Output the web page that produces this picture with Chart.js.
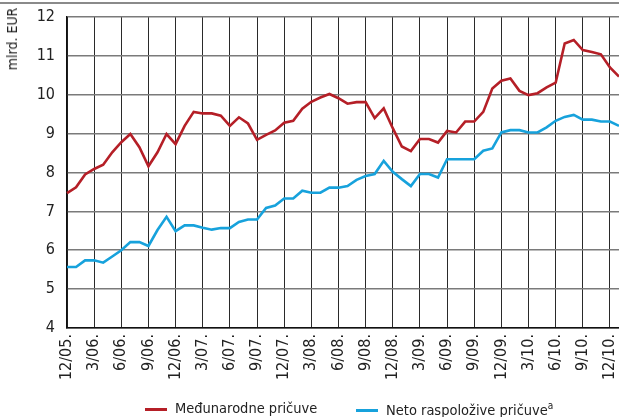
<!DOCTYPE html>
<html>
<head>
<meta charset="utf-8">
<script src="https://cdn.jsdelivr.net/npm/chart.js@4"></script>
<style>
  body { margin: 0; background: #fff; }
  #wrap { position: relative; width: 619px; height: 417px; font-family: 'Liberation Sans Narrow', 'DejaVu Sans Condensed', sans-serif; color: #222; }
  #topline { position: absolute; left: 0; top: 2px; width: 619px; height: 0; border-top: 2px solid #8a8a8a; }
  #ytitle { position: absolute; left: 12px; top: 39px; transform: translate(-50%, -50%) rotate(-90deg); font-size: 14px; white-space: nowrap; }
  #legend { position: absolute; left: 0; top: 400px; width: 619px; font-size: 14.5px; }
  .item { position: absolute; top: 0; white-space: nowrap; }
  .swatch { display: inline-block; width: 22px; height: 3px; vertical-align: middle; margin-right: 8px; }
  sup { font-size: 10px; }
</style>
</head>
<body>
<div id="wrap">
  <canvas id="chart" width="619" height="417"></canvas>
  <div id="topline"></div>
  <div id="ytitle">mlrd. EUR</div>
  <div id="legend">
    <span class="item" style="left:145px"><span class="swatch" style="background:#b51f27"></span>Međunarodne pričuve</span>
    <span class="item" style="left:356px"><span class="swatch" style="background:#17a2dc"></span>Neto raspoložive pričuve<sup>a</sup></span>
  </div>
</div>
<script>
const months = [
  "12/05.", "1/06.", "2/06.", "3/06.", "4/06.", "5/06.", "6/06.", "7/06.", "8/06.", "9/06.", "10/06.", "11/06.",
  "12/06.", "1/07.", "2/07.", "3/07.", "4/07.", "5/07.", "6/07.", "7/07.", "8/07.", "9/07.", "10/07.", "11/07.",
  "12/07.", "1/08.", "2/08.", "3/08.", "4/08.", "5/08.", "6/08.", "7/08.", "8/08.", "9/08.", "10/08.", "11/08.",
  "12/08.", "1/09.", "2/09.", "3/09.", "4/09.", "5/09.", "6/09.", "7/09.", "8/09.", "9/09.", "10/09.", "11/09.",
  "12/09.", "1/10.", "2/10.", "3/10.", "4/10.", "5/10.", "6/10.", "7/10.", "8/10.", "9/10.", "10/10.", "11/10.",
  "12/10.", "1/11."
];

// only these months get a tick label and a vertical grid line
const tickLabels = [
  "12/05.", "3/06.", "6/06.", "9/06.", "12/06.", "3/07.", "6/07.", "9/07.", "12/07.", "3/08.", "6/08.",
  "9/08.", "12/08.", "3/09.", "6/09.", "9/09.", "12/09.", "3/10.", "6/10.", "9/10.", "12/10."
];

const medjunarodne = [
  7.47, 7.62, 7.95, 8.09, 8.20, 8.52, 8.78, 8.99, 8.65, 8.16, 8.52, 8.99,
  8.73, 9.20, 9.56, 9.52, 9.52, 9.46, 9.20, 9.42, 9.26, 8.84, 8.97, 9.08,
  9.28, 9.33, 9.64, 9.82, 9.93, 10.02, 9.91, 9.77, 9.81, 9.81, 9.40, 9.65,
  9.14, 8.67, 8.55, 8.86, 8.86, 8.77, 9.07, 9.03, 9.31, 9.31, 9.56, 10.16,
  10.36, 10.42, 10.10, 9.99, 10.04, 10.19, 10.31, 11.32, 11.41, 11.15, 11.10, 11.04,
  10.70, 10.47
];

const netoRaspolozive = [
  5.57, 5.57, 5.74, 5.74, 5.68, 5.84, 6.00, 6.21, 6.21, 6.11, 6.52, 6.86,
  6.49, 6.64, 6.64, 6.58, 6.53, 6.57, 6.57, 6.73, 6.79, 6.79, 7.09, 7.15,
  7.33, 7.33, 7.53, 7.48, 7.48, 7.61, 7.61, 7.65, 7.81, 7.91, 7.96, 8.30,
  8.02, 7.83, 7.65, 7.96, 7.96, 7.87, 8.34, 8.34, 8.34, 8.34, 8.56, 8.62,
  9.03, 9.09, 9.09, 9.03, 9.03, 9.16, 9.33, 9.43, 9.48, 9.36, 9.36, 9.31,
  9.31, 9.20
];

const yMin = 4, yMax = 12;

Chart.defaults.font.family = "'Liberation Sans Narrow', 'DejaVu Sans Condensed', sans-serif";
Chart.defaults.color = "#222";

new Chart(document.getElementById("chart"), {
  type: "line",
  data: {
    labels: months,
    datasets: [
      { label: "Međunarodne pričuve", data: medjunarodne, borderColor: "#b51f27", borderWidth: 2.6, pointRadius: 0, tension: 0 },
      { label: "Neto raspoložive pričuve", data: netoRaspolozive, borderColor: "#17a2dc", borderWidth: 2.6, pointRadius: 0, tension: 0 }
    ]
  },
  options: {
    responsive: false,
    animation: false,
    devicePixelRatio: 1,
    layout: { padding: { top: 17, right: 0, left: 0, bottom: 0 } },
    plugins: { legend: { display: false }, tooltip: { enabled: false } },
    scales: {
      x: {
        offset: false,
        grid: { color: "#2a2a2a", lineWidth: 1, drawTicks: false },
        border: { color: "#111", width: 1.5 },
        ticks: {
          autoSkip: false,
          minRotation: 90,
          maxRotation: 90,
          padding: 6,
          font: { size: 16 },
          callback: (v, i) => tickLabels.includes(months[i]) ? months[i] : null
        },
        afterFit: s => { s.height = 89; s.paddingLeft = 0; s.paddingRight = 0; }
      },
      y: {
        min: yMin,
        max: yMax,
        grid: { color: "#7a7a7a", lineWidth: 1.6, drawTicks: false },
        border: { color: "#111", width: 1.5 },
        ticks: { stepSize: 1, padding: 12, font: { size: 16 } },
        afterFit: s => { s.width = 67; s.paddingTop = 0; s.paddingBottom = 0; }
      }
    }
  }
});
</script>
</body>
</html>
